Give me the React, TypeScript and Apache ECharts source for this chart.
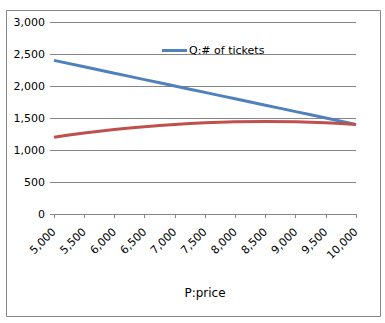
import React, { useEffect, useRef } from "react";
import * as echarts from "echarts";

const prices = ["5,000", "5,500", "6,000", "6,500", "7,000", "7,500", "8,000", "8,500", "9,000", "9,500", "10,000"];
const tickets = [2400, 2300, 2200, 2100, 2000, 1900, 1800, 1700, 1600, 1500, 1400];
const revenue = [1200, 1265, 1320, 1365, 1400, 1425, 1440, 1445, 1440, 1425, 1400];
const yTicks = { min: 0, max: 3000, interval: 500 };

const FONT = "DejaVu Sans";

export default function App() {
  const ref = useRef<HTMLDivElement>(null);
  useEffect(() => {
    if (!ref.current) return;
    const chart = echarts.init(ref.current, null, { renderer: "svg" });
    chart.setOption({
      animation: false,
      backgroundColor: "#ffffff",
      textStyle: { fontFamily: FONT },
      graphic: [
        {
          type: "rect",
          shape: { x: 6.5, y: 10.5, width: 374, height: 306 },
          style: { fill: "none", stroke: "#868686", lineWidth: 1 },
          silent: true,
        },
      ],
      grid: { left: 54, right: 29, top: 22, bottom: 109, containLabel: false },
      legend: {
        data: ["Q:# of tickets"],
        left: 157,
        top: 40,
        itemWidth: 25,
        itemHeight: 3,
        itemGap: 2,
        icon: "rect",
        textStyle: { fontFamily: FONT, fontSize: 11, color: "#000", padding: [0, 0, 0, -3] },
      },
      xAxis: {
        type: "category",
        data: prices,
        boundaryGap: false,
        name: "P:price",
        nameLocation: "middle",
        nameGap: 73,
        nameTextStyle: { fontFamily: FONT, fontSize: 12, color: "#000" },
        axisLine: { lineStyle: { color: "#868686", width: 1 } },
        axisTick: { show: true, length: 4, lineStyle: { color: "#868686" }, alignWithLabel: true },
        axisLabel: { rotate: 45, fontFamily: FONT, fontSize: 11, color: "#000", margin: 16, interval: 0 },
        splitLine: { show: false },
      },
      yAxis: {
        type: "value",
        min: yTicks.min,
        max: yTicks.max,
        interval: yTicks.interval,
        axisLine: { show: false },
        axisTick: { show: true, length: 4, lineStyle: { color: "#868686" } },
        axisLabel: {
          fontFamily: FONT,
          fontSize: 11,
          color: "#000",
          margin: 9,
          formatter: (v: number) => v.toLocaleString("en-US"),
        },
        splitLine: { show: true, lineStyle: { color: "#868686", width: 1 } },
      },
      series: [
        {
          name: "Q:# of tickets",
          type: "line",
          data: tickets,
          smooth: true,
          showSymbol: false,
          symbol: "none",
          lineStyle: { color: "#4F81BD", width: 3 },
          itemStyle: { color: "#4F81BD" },
        },
        {
          name: "R:revenue",
          type: "line",
          data: revenue,
          smooth: true,
          showSymbol: false,
          symbol: "none",
          lineStyle: { color: "#C0504D", width: 3 },
          itemStyle: { color: "#C0504D" },
        },
      ],
    });
    return () => chart.dispose();
  }, []);
  return (
    <div
      ref={ref}
      style={{ position: "fixed", left: 0, top: 0, width: 385, height: 323 }}
    />
  );
}
